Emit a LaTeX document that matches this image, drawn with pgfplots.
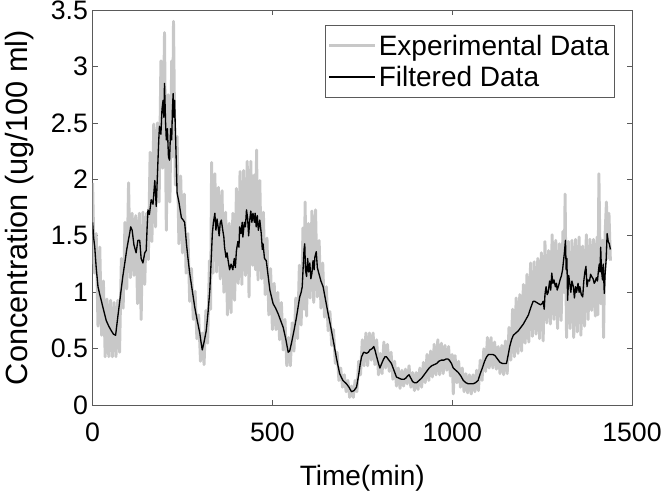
\documentclass[border=0pt]{standalone}
\usepackage{fontspec}
\setmainfont{Liberation Sans}
\usepackage{pgfplots}
\usepackage{pgfplotstable}
\pgfplotsset{compat=1.18}
\definecolor{expgray}{RGB}{200,200,200}
\definecolor{axgray}{RGB}{90,90,90}

\pgfplotstableread{
t y
0 1.97
5 1.17
10 1.52
15 0.70
20 1.40
25 0.62
30 1.10
35 0.43
40 0.94
45 0.43
50 0.93
55 0.43
60 0.91
65 0.43
70 0.93
75 0.47
80 1.30
85 0.86
90 1.62
95 1.03
100 1.97
105 1.13
110 1.70
115 1.15
120 1.68
125 0.90
130 1.70
135 0.76
140 1.71
145 1.07
150 1.70
155 1.29
160 2.24
165 1.45
170 2.49
175 1.58
180 2.50
185 1.80
190 3.05
195 2.10
200 3.30
205 1.55
210 2.75
215 1.80
220 3.05
222 2.20
225 3.40
230 1.95
235 2.38
240 1.43
245 2.03
250 1.35
255 1.87
260 1.17
265 1.52
270 0.92
275 1.21
280 0.76
285 1.01
290 0.59
295 0.80
300 0.39
305 0.64
310 0.36
315 0.84
320 0.55
325 1.28
328 0.85
331 2.15
335 1.17
340 2.05
345 1.18
350 1.93
355 1.12
360 1.90
365 1.00
370 1.71
375 0.80
380 1.61
385 0.82
390 1.70
395 0.93
400 1.92
405 1.08
410 2.07
415 1.07
420 2.08
425 1.15
430 2.16
435 0.96
440 2.16
445 1.24
450 2.04
453 1.20
456 2.26
460 1.11
465 1.99
470 1.12
475 1.71
480 0.98
485 1.48
490 0.80
495 1.21
500 0.67
505 1.08
510 0.67
515 1.00
520 0.58
525 0.91
530 0.49
535 0.76
540 0.35
545 0.60
550 0.35
555 0.73
560 0.48
565 0.95
570 0.59
575 1.24
580 0.71
585 1.57
588 0.85
591 1.80
595 0.79
600 1.61
605 0.95
610 1.72
615 0.91
620 1.73
625 0.96
630 1.46
635 0.86
640 1.26
645 0.78
650 1.05
655 0.66
660 0.83
665 0.53
670 0.67
675 0.37
680 0.47
685 0.22
690 0.33
695 0.16
700 0.27
705 0.12
710 0.22
715 0.07
720 0.17
725 0.07
730 0.22
735 0.12
740 0.39
745 0.27
750 0.58
755 0.35
760 0.64
765 0.35
770 0.64
775 0.40
780 0.64
785 0.36
790 0.58
795 0.27
800 0.46
805 0.28
810 0.56
815 0.33
820 0.54
825 0.30
830 0.47
835 0.23
840 0.39
845 0.17
850 0.33
855 0.15
860 0.31
865 0.17
870 0.32
875 0.19
880 0.35
885 0.16
890 0.29
895 0.13
900 0.29
905 0.14
910 0.33
915 0.16
920 0.38
925 0.20
930 0.45
935 0.22
940 0.48
945 0.25
950 0.54
955 0.27
960 0.58
965 0.27
970 0.55
975 0.28
980 0.53
985 0.31
990 0.52
995 0.26
1000 0.45
1003 0.10
1008 0.44
1013 0.20
1018 0.39
1023 0.16
1028 0.33
1033 0.12
1038 0.28
1043 0.11
1048 0.27
1053 0.10
1058 0.27
1063 0.12
1068 0.31
1073 0.13
1078 0.40
1083 0.22
1088 0.50
1093 0.30
1098 0.60
1103 0.33
1108 0.60
1113 0.33
1118 0.56
1123 0.32
1128 0.52
1133 0.28
1138 0.53
1143 0.27
1148 0.57
1153 0.28
1158 0.69
1163 0.40
1168 0.85
1173 0.43
1178 0.95
1183 0.46
1188 0.98
1193 0.48
1198 1.07
1203 0.55
1208 1.16
1213 0.56
1218 1.26
1223 0.61
1228 1.27
1233 0.63
1238 1.30
1243 0.59
1248 1.35
1253 0.57
1258 1.45
1263 0.73
1268 1.37
1273 0.72
1278 1.51
1283 0.76
1288 1.46
1293 0.68
1298 1.43
1303 0.75
1308 1.54
1311 1.00
1314 1.87
1318 0.60
1323 1.45
1328 0.68
1333 1.46
1338 0.60
1343 1.47
1348 0.65
1353 1.49
1358 0.62
1363 1.41
1368 0.70
1373 1.51
1378 0.76
1383 1.47
1388 0.84
1393 1.47
1398 0.79
1403 1.49
1405 0.80
1408 2.05
1413 0.90
1418 1.46
1421 0.60
1425 1.50
1429 1.80
1432 1.30
1436 1.70
1440 1.28
}\expdata

\pgfplotstableread{
t y
0 1.62
3 1.48
6 1.40
10 1.22
15 1.05
20 0.98
24 0.93
30 0.85
38 0.75
45 0.70
52 0.66
58 0.63
64 0.62
70 0.78
77 0.96
84 1.14
90 1.27
95 1.38
100 1.47
103 1.52
106 1.58
110 1.55
115 1.42
121 1.35
126 1.46
131 1.46
135 1.30
140 1.26
145 1.35
149 1.37
152 1.60
154 1.73
158 1.69
163 1.82
168 1.78
173 1.99
177 1.76
181 2.10
184 2.35
186 2.47
190 2.40
193 2.62
196 2.70
198 2.55
200 2.85
203 2.50
205 2.35
208 2.45
211 2.20
214 2.17
217 2.45
220 2.35
222 2.62
224 2.76
226 2.55
228 2.70
231 2.35
235 1.88
240 1.80
244 1.72
247 1.66
252 1.64
256 1.62
261 1.43
265 1.31
270 1.17
277 1.02
284 0.87
291 0.75
298 0.64
302 0.55
305 0.49
310 0.56
316 0.66
321 0.82
326 1.02
330 1.30
333 1.52
336 1.62
340 1.70
343 1.55
346 1.65
349 1.58
352 1.50
355 1.62
358 1.64
362 1.55
365 1.49
367 1.40
371 1.31
374 1.35
377 1.28
381 1.20
385 1.25
390 1.20
394 1.30
397 1.22
400 1.37
404 1.45
407 1.40
409 1.58
413 1.52
416 1.62
418 1.49
422 1.62
425 1.58
428 1.73
431 1.66
434 1.50
437 1.64
440 1.72
443 1.62
446 1.70
450 1.62
452 1.70
455 1.58
458 1.68
461 1.55
465 1.64
469 1.52
472 1.38
474 1.43
478 1.30
483 1.28
488 1.15
493 1.02
502 0.90
509 0.86
516 0.81
523 0.75
530 0.69
537 0.59
544 0.47
548 0.48
553 0.55
560 0.66
567 0.78
572 0.88
576 0.96
580 1.00
583 1.05
586 1.25
588 1.38
590 1.43
592 1.20
595 1.14
598 1.30
601 1.18
604 1.26
607 1.12
610 1.17
613 1.28
616 1.20
618 1.31
622 1.36
625 1.22
629 1.17
635 1.10
641 1.05
648 0.93
655 0.81
662 0.70
669 0.58
678 0.42
687 0.28
696 0.22
706 0.19
713 0.16
720 0.12
727 0.13
734 0.16
740 0.27
744 0.36
748 0.43
754 0.47
762 0.46
767 0.47
771 0.49
777 0.50
782 0.52
786 0.48
790 0.43
795 0.37
799 0.33
804 0.37
808 0.40
813 0.43
817 0.43
824 0.40
831 0.37
838 0.31
845 0.25
852 0.24
859 0.23
866 0.23
871 0.24
876 0.26
880 0.27
885 0.24
890 0.21
895 0.20
901 0.20
908 0.22
915 0.24
922 0.27
929 0.30
936 0.33
943 0.35
950 0.36
957 0.37
963 0.39
970 0.40
977 0.40
983 0.41
988 0.41
992 0.40
998 0.37
1003 0.33
1010 0.31
1017 0.29
1024 0.26
1031 0.22
1038 0.20
1045 0.19
1052 0.19
1058 0.19
1065 0.20
1072 0.22
1078 0.28
1085 0.34
1090 0.39
1096 0.43
1101 0.45
1107 0.45
1113 0.45
1119 0.44
1126 0.41
1133 0.38
1140 0.37
1147 0.37
1151 0.37
1156 0.45
1160 0.52
1165 0.58
1170 0.62
1177 0.64
1184 0.66
1191 0.69
1198 0.72
1205 0.76
1212 0.80
1218 0.86
1225 0.92
1230 0.92
1235 0.91
1240 0.90
1246 0.89
1250 0.90
1253 0.92
1256 0.85
1258 0.98
1261 1.05
1264 0.98
1267 1.00
1271 1.10
1274 1.02
1277 1.17
1280 1.08
1283 1.11
1287 1.05
1290 1.08
1292 1.02
1296 1.06
1300 1.11
1304 1.15
1307 1.20
1309 1.26
1312 1.35
1315 1.46
1317 1.20
1319 1.30
1321 0.93
1324 1.15
1327 1.08
1330 1.00
1333 1.10
1337 1.05
1340 0.95
1343 1.05
1346 1.00
1350 1.08
1353 1.00
1355 1.05
1359 0.98
1363 0.96
1366 1.10
1369 1.18
1372 1.23
1375 1.05
1378 1.11
1382 1.10
1385 1.16
1388 1.14
1392 1.12
1395 1.08
1397 1.09
1401 1.13
1404 1.10
1406 1.17
1409 1.25
1411 1.18
1413 1.40
1415 1.20
1418 1.11
1420 1.25
1423 0.99
1425 1.15
1428 1.28
1431 1.52
1434 1.45
1437 1.43
1440 1.38
}\filtdata

\begin{document}
\begin{tikzpicture}
\begin{axis}[
  scale only axis,
  width=404.25pt, height=296.25pt,
  xmin=0, xmax=1500, ymin=0, ymax=3.5,
  xtick={0,500,1000,1500},
  ytick={0,0.5,1,1.5,2,2.5,3,3.5},
  /pgf/number format/1000 sep={},
  /pgf/number format/assume math mode=true,
  axis line style={axgray, line width=0.6pt},
  tick style={axgray, line width=0.6pt},
  major tick length=4pt,
  tick align=inside,
  ticklabel style={font=\fontsize{20}{24}\selectfont},
  xticklabel style={yshift=-10pt},
  xlabel={Time(min)},
  ylabel={Concentration (ug/100 ml)},
  xlabel style={font=\fontsize{21}{25}\selectfont, yshift=-10pt},
  ylabel style={font=\fontsize{23}{27}\selectfont},
  ylabel shift=6pt,
  legend style={at={(0.9685,0.962)}, anchor=north east,
    draw=axgray, line width=0.6pt,
    font=\fontsize{21}{25}\selectfont,
    inner xsep=2pt, inner ysep=5pt, row sep=2.5pt,
    nodes={inner sep=2pt}},
  legend cell align=left,
  legend image code/.code={\draw[#1] (0cm,0cm) -- (1.2cm,0cm);},
]
\addplot[expgray, line width=2.2pt, line join=round] table[x=t,y=y]{\expdata};
\addlegendentry{Experimental Data}
\addplot[black, line width=1pt, line join=round] table[x=t,y=y]{\filtdata};
\addlegendentry{Filtered Data}
\coordinate (sw) at (rel axis cs:0,0);
\coordinate (ne) at (rel axis cs:1,1);
\end{axis}
\pgfresetboundingbox
\path ([shift={(-69.4pt,-64.5pt)}]sw) rectangle ([shift={(21.75pt,7.5pt)}]ne);
\end{tikzpicture}
\end{document}
